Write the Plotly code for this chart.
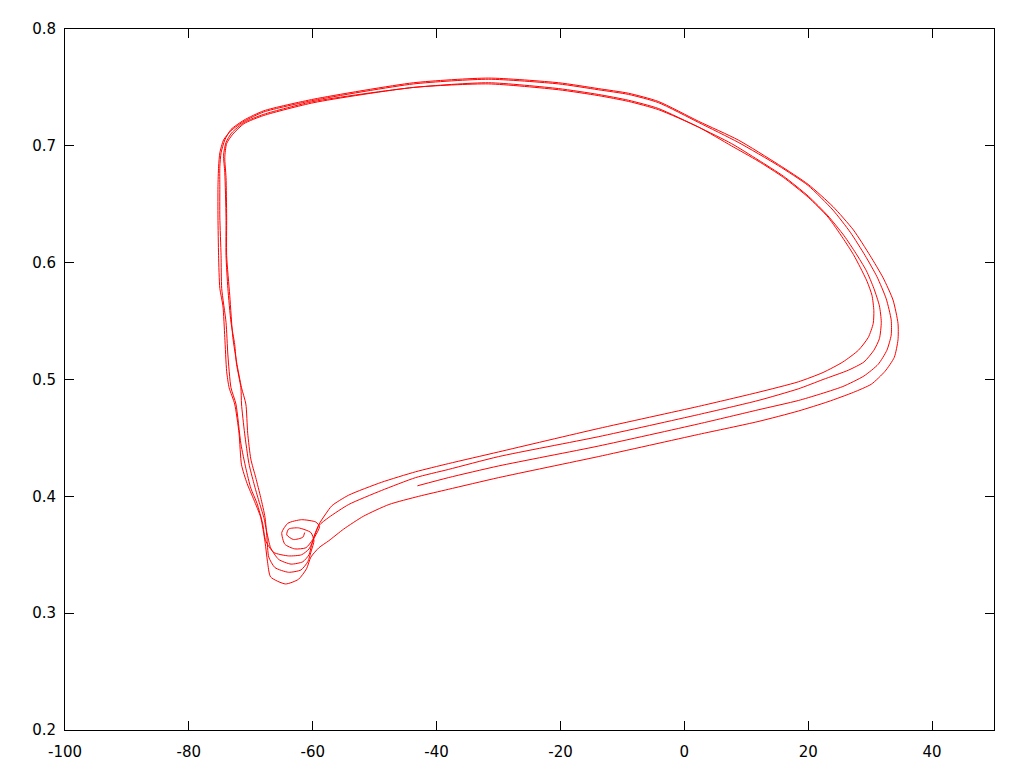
import plotly.graph_objects as go

# Membrane potential V (x) and gating variable n (y), trajectory, in time order
V_c1 = [-43.1, -38.1, -30.0, -13.9, 2.3, 11.9, 18.4, 21.6, 25.6, 29.0, 31.3, 32.7, 33.4, 33.4, 32.6, 31.1, 29.2, 26.8, 24.0,
        20.0, 15.2, 8.7, 2.3, -4.2, -9.0, -13.9, -20.3, -31.6, -43.7, -59.8, -67.9, -71.1, -73.2, -74.4, -75.0, -75.2, -75.3,
        -75.3, -75.2, -75.0, -74.5, -74.2, -73.9, -73.5, -72.6, -71.9, -71.5, -70.6, -69.5, -68.4, -67.7, -67.3, -66.8, -64.4,
        -62.3, -61.0, -60.3, -59.0]
n_c1 = [0.409, 0.416, 0.426, 0.443, 0.462, 0.474, 0.482, 0.487, 0.494, 0.503, 0.513, 0.525, 0.538, 0.551, 0.569, 0.588, 0.606,
        0.626, 0.645, 0.666, 0.683, 0.703, 0.720, 0.737, 0.744, 0.748, 0.753, 0.757, 0.753, 0.739, 0.729, 0.721, 0.713, 0.705,
        0.694, 0.682, 0.665, 0.639, 0.606, 0.578, 0.563, 0.536, 0.507, 0.493, 0.479, 0.454, 0.427, 0.411, 0.397, 0.382, 0.361,
        0.344, 0.331, 0.325, 0.329, 0.338, 0.348, 0.356]

V_c2 = [-57.4, -55.0, -51.8, -47.7, -42.9, -38.1, -30.0, -13.9, 2.3, 11.9, 18.4, 23.2, 27.3, 30.2, 32.4, 33.9, 34.5, 34.5, 33.7,
        32.1, 30.0, 27.3, 24.0, 20.0, 15.2, 8.7, 2.3, -4.2, -9.0, -13.9, -20.3, -31.6, -43.7, -59.8, -67.9, -71.1, -73.2, -74.2,
        -74.8, -75.0, -75.0, -75.0, -74.8, -74.7, -74.0, -73.7, -73.2, -72.4, -71.6, -70.8, -70.0, -69.0, -68.1, -67.6, -66.3,
        -63.9, -61.8, -60.6, -59.7, -58.9, -59.5, -61.8, -64.0, -65.0, -64.5, -62.9, -61.1, -60.0, -59.0]
n_c2 = [0.362, 0.372, 0.383, 0.393, 0.400, 0.406, 0.416, 0.434, 0.453, 0.464, 0.473, 0.481, 0.489, 0.496, 0.507, 0.519, 0.534,
        0.548, 0.568, 0.587, 0.606, 0.628, 0.648, 0.667, 0.684, 0.705, 0.721, 0.738, 0.745, 0.749, 0.754, 0.758, 0.754, 0.740,
        0.730, 0.722, 0.714, 0.705, 0.694, 0.682, 0.665, 0.639, 0.606, 0.578, 0.549, 0.521, 0.493, 0.479, 0.445, 0.424, 0.407,
        0.394, 0.377, 0.362, 0.352, 0.349, 0.350, 0.355, 0.365, 0.374, 0.378, 0.380, 0.377, 0.369, 0.359, 0.355, 0.356, 0.363,
        0.375]

V_c3 = [-57.4, -54.2, -48.9, -43.4, -38.1, -30.0, -13.9, 2.3, 11.9, 18.4, 22.4, 26.5, 29.0, 30.6, 31.5, 31.8, 31.5, 30.6, 29.4,
        27.7, 25.8, 23.2, 20.0, 16.0, 11.9, 7.6, 2.3, -4.2, -9.0, -13.9, -20.3, -31.6, -43.7, -59.8, -67.9, -71.1, -73.1, -74.0,
        -74.4, -74.2, -74.0, -74.0, -73.7, -73.2, -72.6, -72.3, -71.6, -71.5, -71.0, -70.3, -69.5, -68.7, -67.9, -67.4, -66.8,
        -65.5, -63.5, -61.6, -60.6, -60.2, -59.7, -59.0]
n_c3 = [0.382, 0.393, 0.405, 0.416, 0.423, 0.434, 0.451, 0.470, 0.482, 0.492, 0.500, 0.508, 0.515, 0.525, 0.535, 0.549, 0.563,
        0.578, 0.593, 0.608, 0.623, 0.640, 0.657, 0.674, 0.688, 0.702, 0.716, 0.732, 0.739, 0.744, 0.749, 0.754, 0.750, 0.738,
        0.727, 0.720, 0.711, 0.703, 0.692, 0.677, 0.639, 0.606, 0.578, 0.549, 0.530, 0.513, 0.493, 0.479, 0.454, 0.428, 0.411,
        0.396, 0.382, 0.369, 0.356, 0.346, 0.342, 0.344, 0.350, 0.358, 0.367, 0.376]

V_c4 = [-57.9, -56.9, -54.2, -48.9, -43.4, -38.1, -30.0, -13.9, 2.3, 11.9, 18.4, 22.4, 25.6, 28.1, 29.7, 30.5, 30.6, 30.3, 29.5,
        28.4, 27.3, 25.6, 23.2, 20.0, 16.0, 11.9, 7.6, 2.3, -4.2, -9.0, -13.9, -20.3, -31.6, -43.7, -59.8, -67.9, -71.1, -72.9,
        -73.9, -74.2, -74.0, -73.9, -73.9, -73.4, -72.9, -72.3, -71.5, -70.8, -70.5, -70.0, -69.2, -68.4, -67.7, -67.4, -67.1,
        -66.1, -63.9, -61.9, -60.8, -60.2, -59.8, -60.3, -62.3, -63.9, -64.2, -63.1, -61.6, -61.3]
n_c4 = [0.385, 0.392, 0.401, 0.412, 0.421, 0.428, 0.438, 0.458, 0.477, 0.489, 0.498, 0.506, 0.515, 0.525, 0.536, 0.548, 0.559,
        0.572, 0.584, 0.596, 0.607, 0.621, 0.639, 0.656, 0.673, 0.687, 0.700, 0.716, 0.731, 0.738, 0.743, 0.748, 0.753, 0.750,
        0.737, 0.726, 0.719, 0.710, 0.702, 0.690, 0.673, 0.639, 0.606, 0.572, 0.536, 0.515, 0.493, 0.479, 0.454, 0.432, 0.416,
        0.399, 0.382, 0.365, 0.348, 0.339, 0.335, 0.337, 0.344, 0.354, 0.362, 0.369, 0.373, 0.372, 0.367, 0.363, 0.365, 0.369]

x_ticks = [-100, -80, -60, -40, -20, 0, 20, 40]
x_tick_labels = ["-100", "-80", "-60", "-40", "-20", "0", "20", "40"]
y_ticks = [0.2, 0.3, 0.4, 0.5, 0.6, 0.7, 0.8]
y_tick_labels = ["0.2", "0.3", "0.4", "0.5", "0.6", "0.7", "0.8"]

V_all = V_c1 + V_c2 + V_c3 + V_c4
n_all = n_c1 + n_c2 + n_c3 + n_c4

fig = go.Figure()
fig.add_trace(go.Scatter(
    x=V_all, y=n_all, mode="lines",
    line=dict(color="#ff0000", width=1, shape="spline", smoothing=0.6),
    showlegend=False, hoverinfo="skip",
))

axis_common = dict(
    showgrid=False, zeroline=False, showline=True, linecolor="black", linewidth=1,
    mirror="allticks", ticks="inside", ticklen=9, tickwidth=1, tickcolor="black",
    tickfont=dict(family="DejaVu Sans, sans-serif", size=15, color="black"),
)
fig.update_xaxes(range=[-100, 50], tickvals=x_ticks, ticktext=x_tick_labels, ticklabelstandoff=8, **axis_common)
fig.update_yaxes(range=[0.2, 0.8], tickvals=y_ticks, ticktext=y_tick_labels, ticklabelstandoff=5, **axis_common)

fig.update_layout(
    width=1024, height=768,
    margin=dict(l=57, r=38, t=12, b=46),
    paper_bgcolor="white", plot_bgcolor="white",
)

fig.write_html("out.html", config={"displayModeBar": False})
